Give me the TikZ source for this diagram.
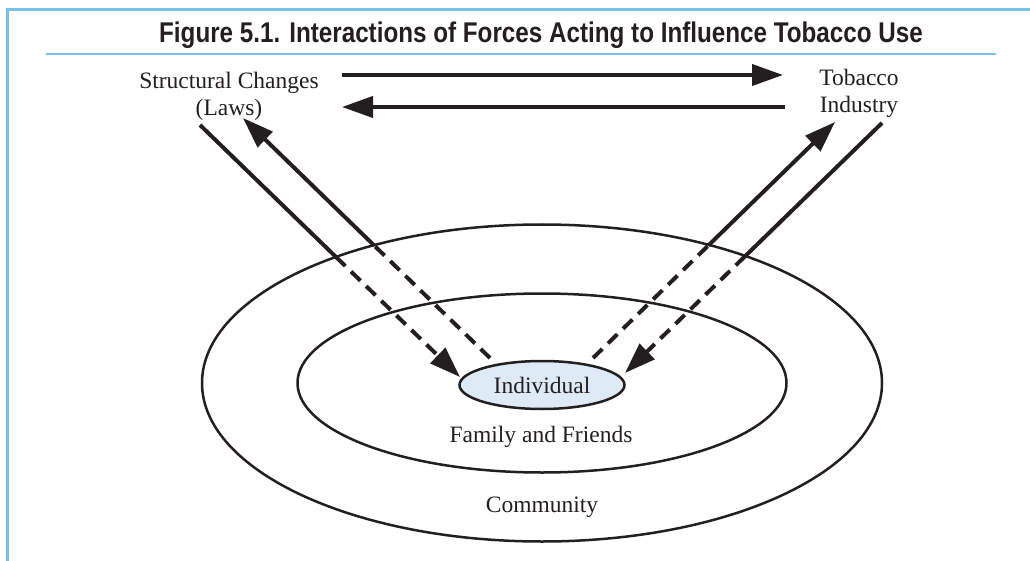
\documentclass[tikz,border=0pt]{standalone}
\usepackage{fontspec}
\setmainfont{Liberation Serif}
\newfontfamily\titlefont[FakeStretch=0.85]{Liberation Sans}
\usetikzlibrary{arrows.meta,shapes.geometric}
\definecolor{frameblue}{RGB}{122,190,234}
\definecolor{indblue}{RGB}{222,235,247}
\definecolor{ink}{RGB}{35,31,32}

\begin{document}
\begin{tikzpicture}[x=1pt, y=-1pt,
    txt/.style={align=center, font=\fontsize{23.5}{27}\selectfont, text=ink, inner sep=0pt},
    ring/.style={draw=ink, line width=2.5pt},
    forceline/.style={draw=ink, line width=4pt},
    dashforce/.style={forceline, dash pattern=on 13pt off 8pt},
    headend/.style={-{Triangle[length=31pt, width=21pt]}}
]
\useasboundingbox (0,0) rectangle (1030,561);

% Frame and title
\draw[frameblue, line width=3pt] (7,561) -- (7,10) -- (1030,10);
\draw[frameblue, line width=2pt] (46,54) -- (996,54);
\node[text=ink, inner sep=0pt, font=\titlefont\bfseries\fontsize{28.5}{32}\selectfont] (title) at (541,35)
    {Figure 5.1. Interactions of Forces Acting to Influence Tobacco Use};

% Forces
\node[txt] (laws) at (229,96) {Structural Changes\\(Laws)};
\node[txt] (tobacco) at (859,93) {Tobacco\\Industry};

% Rings
\draw[ring] (542,383) ellipse [x radius=340, y radius=158.5];
\draw[ring] (542,383) ellipse [x radius=244.5, y radius=89.5];
\node[ellipse, draw=ink, line width=2.5pt, fill=indblue, minimum width=165pt, minimum height=48pt, txt] (ind) at (542,385) {Individual};
\node[txt] (family) at (541,437) {Family and Friends};
\node[txt] (community) at (542,507) {Community};

% Arrow ends
\coordinate (lawsA) at (342,75);
\coordinate (tobA) at (783,75);
\coordinate (lawsB) at (342,107);
\coordinate (tobB) at (785,107);
\coordinate (lawsOut) at (200,125);
\coordinate (lawsIn) at (243,118);
\coordinate (tobIn) at (835,122);
\coordinate (tobOut) at (882,123);
\coordinate (indA) at (460,377);
\coordinate (indB) at (490,358);
\coordinate (indC) at (593,358);
\coordinate (indD) at (625,373);

% Crossings with the community ring
\coordinate (crossA) at (336,257);
\coordinate (crossB) at (374.4,245.7);
\coordinate (crossC) at (708.4,245.4);
\coordinate (crossD) at (745,256.3);

% Arrows
\draw[forceline, headend] (lawsA) -- (tobA);
\draw[forceline, headend] (tobB) -- (lawsB);
\draw[forceline] (lawsOut) -- (crossA);
\draw[dashforce, headend] (crossA) -- (indA);
\draw[dashforce] (indB) -- (crossB);
\draw[forceline, headend] (crossB) -- (lawsIn);
\draw[dashforce] (indC) -- (crossC);
\draw[forceline, headend] (crossC) -- (tobIn);
\draw[forceline] (tobOut) -- (crossD);
\draw[dashforce, headend] (crossD) -- (indD);

\end{tikzpicture}
\end{document}
